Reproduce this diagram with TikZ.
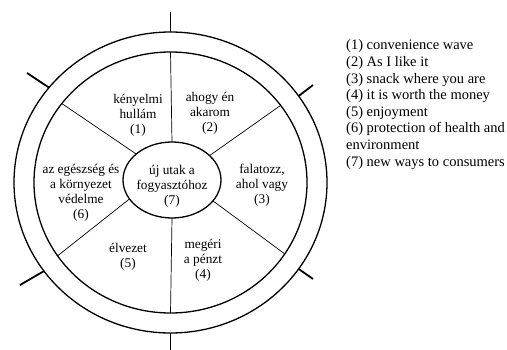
\documentclass[tikz,border=0pt]{standalone}
\usepackage{fontspec}
\setmainfont{Liberation Serif}
\usetikzlibrary{shapes.geometric}
\begin{document}
\begin{tikzpicture}[x=1pt,y=1pt,
  ring/.style={draw, ellipse, inner sep=0pt, outer sep=0pt, line width=1.3pt},
  spoke/.style={line width=0.7pt},
  tickmark/.style={line width=1.8pt},
  lbl/.style={align=center, inner sep=0pt, font=\fontsize{13.3}{15}\selectfont},
  legend/.style={align=left, inner sep=0pt, anchor=north west, font=\fontsize{14.5}{16.6}\selectfont}]
\useasboundingbox (0,0) rectangle (507,349);
% rings
\node[ring, minimum width=313pt, minimum height=301pt] (outer) at (170.5,166.5) {};
\node[ring, minimum width=273pt, minimum height=261pt] (inner) at (170.5,166.5) {};
\node[ring, minimum width=98pt, minimum height=76pt] (c) at (172,169) {};
% spokes
\draw[spoke] (c.90) -- (inner.90);
\draw[spoke] (c.270) -- (inner.270);
\draw[spoke] (c.33) -- (inner.35);
\draw[spoke] (c.-27) -- (inner.-32);
\draw[spoke] (c.204) -- (inner.213);
\draw[spoke] (c.144) -- (inner.144);
% ticks
\coordinate (tN) at (170.5,337);
\coordinate (tS) at (170.5,-2);
\coordinate (tUL) at (27,276);
\coordinate (tLL) at (20,64);
\coordinate (tUR) at (313,264);
\coordinate (tLR) at (313,70);
\draw[tickmark] (outer.90) -- (tN);
\draw[tickmark] (outer.270) -- (tS);
\draw[tickmark] (outer.142) -- (tUL);
\draw[tickmark] (outer.215) -- (tLL);
\draw[tickmark] (outer.34) -- (tUR);
\draw[tickmark] (outer.-34) -- (tLR);
% sector labels
\node[lbl] (l1) at (138,234) {kényelmi\\hullám\\(1)};
\node[lbl] (l2) at (210,236) {ahogy én\\akarom\\(2)};
\node[lbl] (l3) at (262,164) {falatozz,\\ahol vagy\\(3)};
\node[lbl] (l4) at (203,89) {megéri\\a pénzt\\(4)};
\node[lbl] (l5) at (128,92) {élvezet\\(5)};
\node[lbl] (l6) at (81,156.5) {az egészség és\\a környezet\\védelme\\(6)};
\node[lbl] (l7) at (172,162.5) {új utak a\\fogyasztóhoz\\(7)};
% legend
\node[legend] (leg) at (346,309.4) {(1) convenience wave\\(2) As I like it\\(3) snack where you are\\(4) it is worth the money\\(5) enjoyment\\(6) protection of health and\\environment\\(7) new ways to consumers};
\end{tikzpicture}
\end{document}
